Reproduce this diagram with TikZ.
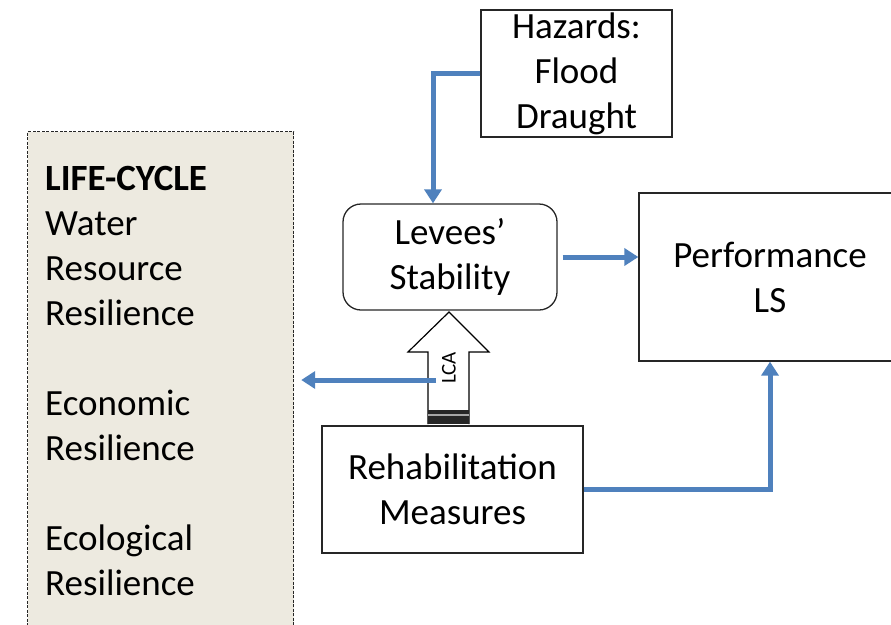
\documentclass[tikz,border=0pt]{standalone}
\usepackage{fontspec}
\setmainfont{Carlito}
\usetikzlibrary{arrows.meta,calc}
\definecolor{arrowblue}{HTML}{4F81BD}
\definecolor{panel}{HTML}{EDEAE0}
\tikzset{
  box/.style={draw=black!85, line width=1.3pt, align=center, inner sep=0pt,
    font=\fontsize{37}{45}\selectfont},
  rbox/.style={box, rounded corners=18pt},
  flow/.style={draw=arrowblue, line width=5pt,
    -{Triangle[length=14pt,width=17pt]}},
  panelbox/.style={draw=black!85, line width=1.2pt, dash pattern=on 3pt off 1.5pt, fill=panel},
}
\begin{document}
\begin{tikzpicture}[x=1pt,y=-1pt]
\useasboundingbox (0,0) rectangle (891,624);
% left panel
\node[panelbox, anchor=north west, minimum width=266pt, minimum height=520pt, inner sep=0pt] (lc) at (27,131) {};
\node[anchor=north west, inner sep=0pt, align=left, font=\fontsize{37}{45}\selectfont] (lctext) at (45,166)
  {\textbf{LIFE-CYCLE}\\Water\\Resource\\Resilience\\[45pt]Economic\\Resilience\\[45pt]Ecological\\Resilience};
% boxes
\node[box, minimum width=191pt, minimum height=127pt] (haz) at (576.5,73.5) {Hazards:\\Flood\\Draught};
\node[rbox, minimum width=214pt, minimum height=106pt] (lev) at (450,257) {Levees’\\Stability};
\node[box, minimum width=262pt, minimum height=168pt] (perf) at (770,277) {Performance\\LS};
\node[box, minimum width=261pt, minimum height=127pt] (reh) at (452.5,489.5) {Rehabilitation\\Measures};
% hollow arrow (LCA)
\draw[line width=1.2pt, fill=white] (428,424) -- (428,352) -- (408,352) -- (449,312) -- (489,352) -- (469,352) -- (469,424);
\fill[black!85] (428,410) rectangle (469,424);
\draw[white!65!black, line width=1.5pt] (428,415) -- (469,415);
\node[rotate=90, inner sep=0pt, font=\fontsize{21}{24}\selectfont] (lca) at (449,368) {LCA};
% connectors
\coordinate (lcastart) at (436,380);
\draw[flow] (haz.west) -| ([xshift=-17pt]lev.north);
\draw[flow] ([xshift=5pt]lev.east) -- (lev.east -| perf.west);
\draw[flow] (reh.east) -| (perf.south);
\draw[flow, shorten >=7pt] (lcastart) -- (lcastart -| lc.east);
\end{tikzpicture}
\end{document}
